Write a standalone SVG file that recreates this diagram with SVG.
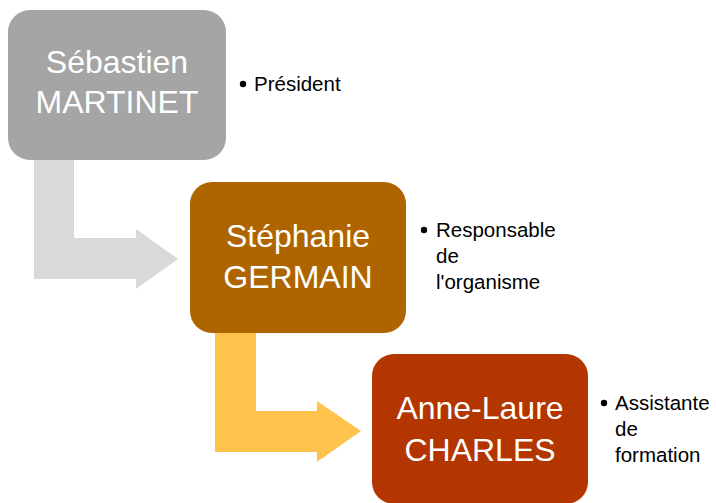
<svg xmlns="http://www.w3.org/2000/svg" width="716" height="503" viewBox="0 0 716 503">
<style>
.name{font-family:"Liberation Sans",Arial,sans-serif;font-size:32px;fill:#fff;text-anchor:middle}
.desc{font-family:"Liberation Sans",Arial,sans-serif;font-size:20.5px;fill:#000}
</style>
<rect width="716" height="503" fill="#fff"/>
<g id="connectors">
<polygon points="34,158 74,158 74,238 136,238 136,229 178,259 136,289 136,279 34,279" fill="#D9D9D9"/>
<polygon points="215,331 256,331 256,411 317,411 317,401 361,431 317,462 317,452 215,452" fill="#FFC34D"/>
</g>
<g id="node1">
<rect x="8" y="10" width="218" height="150" rx="22" fill="#A5A5A5"/>
<text class="name" x="117" y="73">Sébastien</text>
<text class="name" x="117" y="113">MARTINET</text>
<circle cx="243" cy="84" r="3.2" fill="#000"/>
<text class="desc" x="254" y="91">Président</text>
</g>
<g id="node2">
<rect x="190" y="182" width="216" height="151" rx="22" fill="#AE6500"/>
<text class="name" x="298" y="247">Stéphanie</text>
<text class="name" x="298" y="288">GERMAIN</text>
<circle cx="424" cy="230" r="3.2" fill="#000"/>
<text class="desc" x="436" y="237">Responsable</text>
<text class="desc" x="436" y="263">de</text>
<text class="desc" x="436" y="289">l'organisme</text>
</g>
<g id="node3">
<rect x="372" y="354" width="216" height="150" rx="22" fill="#B33500"/>
<text class="name" x="480" y="419">Anne-Laure</text>
<text class="name" x="480" y="461">CHARLES</text>
<circle cx="604" cy="403" r="3.2" fill="#000"/>
<text class="desc" x="615" y="410">Assistante</text>
<text class="desc" x="615" y="436">de</text>
<text class="desc" x="615" y="462">formation</text>
</g>
</svg>
